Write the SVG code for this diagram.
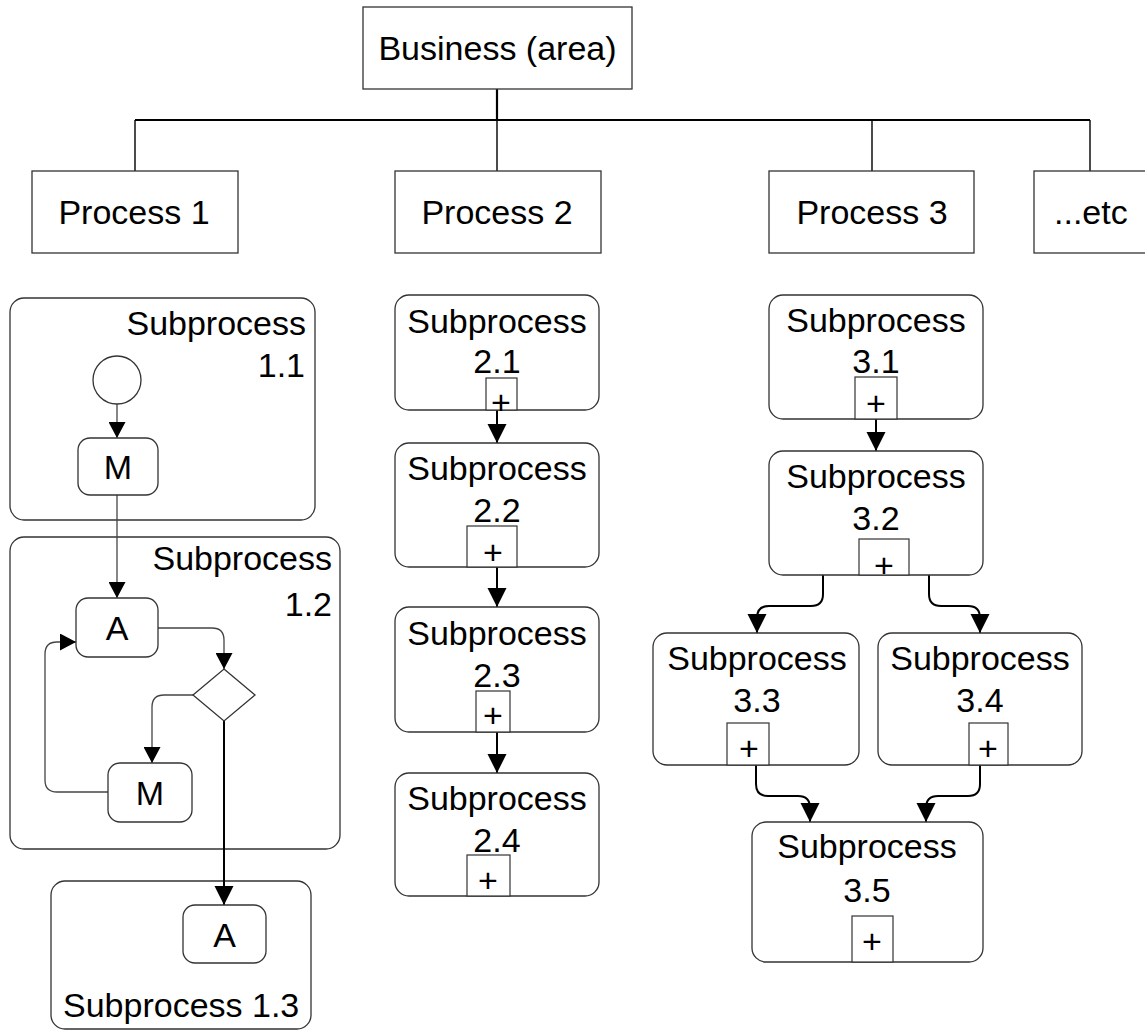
<svg xmlns="http://www.w3.org/2000/svg" width="1145" height="1032" viewBox="0 0 1145 1032">
<style>
  text { font-family: "Liberation Sans", Arial, sans-serif; font-size: 34px; fill: #000; }
  .c { text-anchor: middle; }
  .r { text-anchor: end; }
  .box { fill: #fff; stroke: #333; stroke-width: 1.3; }
  .sq { fill: #fff; stroke: #333; stroke-width: 1.2; }
  .tree { fill: none; stroke: #000; stroke-width: 1.4; }
  .treeb { fill: none; stroke: #000; stroke-width: 2.2; }
  .thin { fill: none; stroke: #444; stroke-width: 1.3; marker-end: url(#ah); }
  .thick { fill: none; stroke: #000; stroke-width: 2; marker-end: url(#ahb); }
</style>
<defs>
  <marker id="ah" markerUnits="userSpaceOnUse" markerWidth="17" markerHeight="17" refX="16" refY="8.5" orient="auto">
    <path d="M0,0 L16,8.5 L0,17 z" fill="#000"/>
  </marker>
  <marker id="ahb" markerUnits="userSpaceOnUse" markerWidth="20" markerHeight="20" refX="19" refY="10" orient="auto">
    <path d="M0,0.5 L19,10 L0,19.5 z" fill="#000"/>
  </marker>
</defs>
<rect width="1145" height="1032" fill="#fff"/>

<!-- Process 1 container subprocesses (drawn beneath connectors) -->
<g id="sub1-1">
  <rect class="box" x="10" y="298" width="305" height="222" rx="14"/>
  <text class="r" x="306" y="335">Subprocess</text>
  <text class="r" x="305" y="377">1.1</text>
</g>
<g id="sub1-2">
  <rect class="box" x="10" y="537" width="330" height="312" rx="14"/>
  <text class="r" x="332" y="570">Subprocess</text>
  <text class="r" x="332" y="616">1.2</text>
</g>
<g id="sub1-3">
  <rect class="box" x="51" y="881" width="260" height="148" rx="14"/>
  <text x="63" y="1017">Subprocess 1.3</text>
</g>

<g id="connectors">
  <!-- hierarchy tree -->
  <path class="treeb" d="M497,89 V120 M135,120 H1090"/>
  <path class="tree" d="M135,120 V171 M497,120 V171 M872,120 V171 M1090,120 V171"/>
  <!-- process 1 -->
  <path class="thin" d="M117,404 V438"/>
  <path class="thin" d="M117,495 V598"/>
  <path class="thin" d="M158,628 H212 Q224,628 224,640 V669"/>
  <path class="thin" d="M193,695 H164 Q152,695 152,707 V763"/>
  <path class="thin" d="M108,792 H57 Q45,792 45,780 V654 Q45,642 57,642 H76"/>
  <path class="thick" d="M224,721 V905"/>
  <!-- process 2 -->
  <path class="thick" d="M497,410 V443"/>
  <path class="thick" d="M497,567 V607"/>
  <path class="thick" d="M497,732 V773"/>
  <!-- process 3 -->
  <path class="thick" d="M876,419 V451"/>
  <path class="thick" d="M823,575 V594 Q823,606 811,606 H769 Q757,606 757,618 V633"/>
  <path class="thick" d="M929,575 V594 Q929,606 941,606 H968 Q980,606 980,618 V633"/>
  <path class="thick" d="M756,765 V784 Q756,796 768,796 H798 Q810,796 810,808 V822"/>
  <path class="thick" d="M980,765 V784 Q980,796 968,796 H938 Q926,796 926,808 V822"/>
</g>

<g id="business">
  <rect class="box" x="363" y="7" width="269" height="82"/>
  <text class="c" x="497.5" y="60">Business (area)</text>
</g>
<g id="process1">
  <rect class="box" x="32" y="171" width="206" height="82"/>
  <text class="c" x="134" y="224">Process 1</text>
</g>
<g id="process2">
  <rect class="box" x="395" y="171" width="206" height="82"/>
  <text class="c" x="497" y="224">Process 2</text>
</g>
<g id="process3">
  <rect class="box" x="769" y="171" width="205" height="82"/>
  <text class="c" x="872" y="224">Process 3</text>
</g>
<g id="etc">
  <rect class="box" x="1034" y="171" width="130" height="82"/>
  <text x="1054" y="224">...etc</text>
</g>

<g id="start1">
  <circle class="box" cx="117" cy="380" r="24"/>
</g>
<g id="m1">
  <rect class="box" x="78" y="438" width="80" height="57" rx="12"/>
  <text class="c" x="118" y="479">M</text>
</g>
<g id="a1">
  <rect class="box" x="76" y="598" width="82" height="59" rx="12"/>
  <text class="c" x="117" y="640">A</text>
</g>
<g id="gw1">
  <polygon class="box" points="224,669 255,695 224,721 193,695"/>
</g>
<g id="m2">
  <rect class="box" x="108" y="763" width="84" height="59" rx="12"/>
  <text class="c" x="150" y="805">M</text>
</g>
<g id="a2">
  <rect class="box" x="183" y="905" width="83" height="58" rx="12"/>
  <text class="c" x="224.5" y="947">A</text>
</g>

<!-- Process 2 subprocesses -->
<g id="sub2-1">
  <rect class="box" x="395" y="295" width="204" height="115" rx="14"/>
  <text class="c" x="497" y="333">Subprocess</text>
  <text class="c" x="497" y="373">2.1</text>
  <rect class="sq" x="486" y="378" width="31" height="32"/>
  <text class="c" x="501" y="414">+</text>
</g>
<g id="sub2-2">
  <rect class="box" x="395" y="443" width="204" height="124" rx="14"/>
  <text class="c" x="497" y="480">Subprocess</text>
  <text class="c" x="497" y="522">2.2</text>
  <rect class="sq" x="467" y="526" width="50" height="41"/>
  <text class="c" x="493" y="564">+</text>
</g>
<g id="sub2-3">
  <rect class="box" x="395" y="607" width="204" height="125" rx="14"/>
  <text class="c" x="497" y="645">Subprocess</text>
  <text class="c" x="497" y="687">2.3</text>
  <rect class="sq" x="476" y="691" width="34" height="41"/>
  <text class="c" x="493" y="727">+</text>
</g>
<g id="sub2-4">
  <rect class="box" x="395" y="773" width="204" height="123" rx="14"/>
  <text class="c" x="497" y="810">Subprocess</text>
  <text class="c" x="497" y="852">2.4</text>
  <rect class="sq" x="467" y="855" width="43" height="41"/>
  <text class="c" x="488" y="892">+</text>
</g>

<!-- Process 3 subprocesses -->
<g id="sub3-1">
  <rect class="box" x="769" y="295" width="214" height="124" rx="14"/>
  <text class="c" x="876" y="332">Subprocess</text>
  <text class="c" x="876" y="373">3.1</text>
  <rect class="sq" x="855" y="377" width="42" height="42"/>
  <text class="c" x="876" y="415">+</text>
</g>
<g id="sub3-2">
  <rect class="box" x="769" y="451" width="214" height="124" rx="14"/>
  <text class="c" x="876" y="488">Subprocess</text>
  <text class="c" x="876" y="530">3.2</text>
  <rect class="sq" x="859" y="539" width="50" height="36"/>
  <text class="c" x="884" y="577">+</text>
</g>
<g id="sub3-3">
  <rect class="box" x="653" y="633" width="206" height="132" rx="14"/>
  <text class="c" x="757" y="670">Subprocess</text>
  <text class="c" x="757" y="712">3.3</text>
  <rect class="sq" x="727" y="723" width="42" height="42"/>
  <text class="c" x="749" y="760">+</text>
</g>
<g id="sub3-4">
  <rect class="box" x="878" y="633" width="204" height="132" rx="14"/>
  <text class="c" x="980" y="670">Subprocess</text>
  <text class="c" x="980" y="712">3.4</text>
  <rect class="sq" x="969" y="723" width="39" height="42"/>
  <text class="c" x="988" y="760">+</text>
</g>
<g id="sub3-5">
  <rect class="box" x="752" y="822" width="231" height="140" rx="14"/>
  <text class="c" x="867" y="858">Subprocess</text>
  <text class="c" x="867" y="902">3.5</text>
  <rect class="sq" x="852" y="916" width="41" height="46"/>
  <text class="c" x="872" y="953">+</text>
</g>
</svg>
